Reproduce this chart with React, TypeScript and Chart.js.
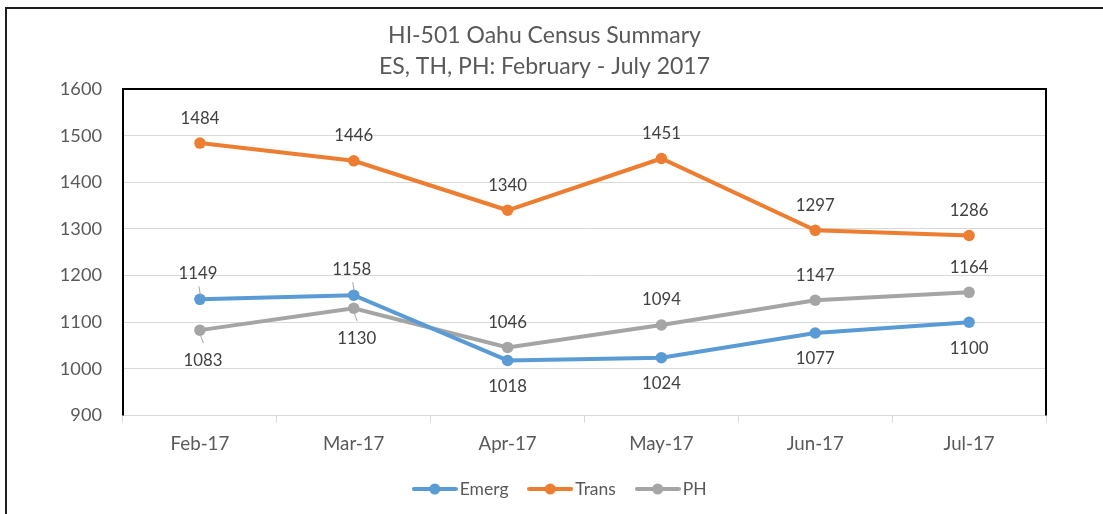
import { useEffect, useRef } from "react";
import { Chart, registerables } from "chart.js";

Chart.register(...registerables);

const categories = ["Feb-17", "Mar-17", "Apr-17", "May-17", "Jun-17", "Jul-17"];
const seriesNames = ["Emerg", "Trans", "PH"];
const emergValues = [1149, 1158, 1018, 1024, 1077, 1100];
const transValues = [1484, 1446, 1340, 1451, 1297, 1286];
const phValues = [1083, 1130, 1046, 1094, 1147, 1164];
const yMin = 900;
const yMax = 1600;
const yStep = 100;
const titleLines = ["HI-501 Oahu Census Summary", "ES, TH, PH: February - July 2017"];

const seriesColors = ["#5B9BD5", "#ED7D31", "#A5A5A5"];

// label placement per series: 1 = above, -1 = below
const emergLabelSide = [1, 1, -1, -1, -1, -1];
const transLabelSide = [1, 1, 1, 1, 1, 1];
const phLabelSide = [-1, -1, 1, 1, 1, 1];
// leader lines (Excel moved labels)
const emergLeader = [true, true, false, false, false, false];
const transLeader = [false, false, false, false, false, false];
const phLeader = [true, true, false, false, false, false];

const FONT = "Lato, 'Open Sans', sans-serif";
const TEXT = "#595959";

function makeLegendImage(color: string) {
  const c = document.createElement("canvas");
  c.width = 46;
  c.height = 14;
  const g = c.getContext("2d")!;
  g.strokeStyle = color;
  g.lineWidth = 4;
  g.lineCap = "round";
  g.beginPath();
  g.moveTo(2, 7);
  g.lineTo(44, 7);
  g.stroke();
  g.fillStyle = color;
  g.beginPath();
  g.arc(23, 7, 5.5, 0, Math.PI * 2);
  g.fill();
  return c;
}

const framePlugin = {
  id: "frame",
  beforeDraw(chart: any) {
    const { ctx, width, height } = chart;
    ctx.save();
    ctx.fillStyle = "#ffffff";
    ctx.fillRect(0, 0, width, height);
    ctx.strokeStyle = "#1f1f1f";
    ctx.lineWidth = 2;
    ctx.strokeRect(6, 8, width + 50, height + 50);
    ctx.restore();
  },
  afterLayout(chart: any) {
    const lg = chart.legend;
    if (lg) {
      lg.left += 18;
      lg.right += 18;
    }
  },
  beforeDatasetsDraw(chart: any) {
    const { ctx, chartArea } = chart;
    const { left, right, top, bottom } = chartArea;
    ctx.save();
    ctx.strokeStyle = "#000000";
    ctx.lineWidth = 2;
    ctx.beginPath();
    ctx.moveTo(left, bottom);
    ctx.lineTo(left, top);
    ctx.lineTo(right, top);
    ctx.lineTo(right, bottom);
    ctx.stroke();
    ctx.restore();
  },
};

const sides = [emergLabelSide, transLabelSide, phLabelSide];
const leaders = [emergLeader, transLeader, phLeader];

const labelPlugin = {
  id: "dataLabels",
  afterDatasetsDraw(chart: any) {
    const { ctx } = chart;
    ctx.save();
    ctx.font = `16.75px ${FONT}`;
    ctx.textAlign = "center";
    ctx.textBaseline = "middle";
    chart.data.datasets.forEach((ds: any, di: number) => {
      const meta = chart.getDatasetMeta(di);
      meta.data.forEach((pt: any, i: number) => {
        const side = sides[di][i];
        const lead = leaders[di][i];
        let dx = 0;
        let dy = side > 0 ? -25 : 26;
        if (lead) {
          dx = side > 0 ? -2 : 3;
          dy = side > 0 ? -26 : 30;
          ctx.strokeStyle = "#A6A6A6";
          ctx.lineWidth = 1;
          ctx.beginPath();
          if (side > 0) {
            ctx.moveTo(pt.x - 1, pt.y - 13);
            ctx.lineTo(pt.x + 0.5, pt.y - 4);
          } else {
            ctx.moveTo(pt.x + 0.5, pt.y + 5);
            ctx.lineTo(pt.x + 3.5, pt.y + 13);
          }
          ctx.stroke();
        }
        ctx.fillStyle = "#404040";
        ctx.fillText(String(ds.data[i]), pt.x + dx, pt.y + dy);
      });
    });
    ctx.restore();
  },
};

export default function App() {
  const ref = useRef<HTMLCanvasElement | null>(null);
  useEffect(() => {
    if (!ref.current) return;
    const values = [emergValues, transValues, phValues];
    const chart = new Chart(ref.current, {
      type: "line",
      data: {
        labels: categories,
        datasets: seriesNames.map((name, i) => ({
          label: name,
          data: values[i],
          borderColor: seriesColors[i],
          backgroundColor: seriesColors[i],
          borderWidth: 4,
          pointRadius: 5.75,
          pointBorderWidth: 0,
          pointBackgroundColor: seriesColors[i],
          tension: 0,
          fill: false,
        })),
      },
      options: {
        responsive: false,
        animation: false,
        layout: { padding: { left: 43, right: 57, top: 0, bottom: 6.25 } },
        scales: {
          x: {
            offset: true,
            grid: {
              offset: true,
              drawOnChartArea: false,
              drawTicks: true,
              tickLength: 7,
              color: "#D9D9D9",
            },
            border: { color: "#D9D9D9", width: 1 },
            ticks: { color: TEXT, font: { family: FONT, size: 18.7 }, padding: 10.3 },
            afterFit: (s: any) => {
              s.height = 39.25;
            },
          },
          y: {
            min: yMin,
            max: yMax,
            ticks: {
              stepSize: yStep,
              color: TEXT,
              font: { family: FONT, size: 18.2 },
              padding: 21,
              callback: (v: any) => String(v),
            },
            grid: { color: "#D9D9D9", lineWidth: 1, drawTicks: false },
            border: { display: false },
            afterFit: (s: any) => {
              s.width = 80;
            },
          },
        },
        plugins: {
          title: {
            display: true,
            text: titleLines,
            color: TEXT,
            font: { family: FONT, size: 23, weight: "normal", lineHeight: 31 / 23 },
            padding: { top: 20.5, bottom: 6.5 },
          },
          legend: {
            position: "bottom",
            labels: {
              usePointStyle: true,
              pointStyleWidth: 32.5,
              padding: 25.5,
              color: TEXT,
              font: { family: FONT, size: 17.5 },
              generateLabels: (c: any) => {
                const items = Chart.defaults.plugins.legend.labels.generateLabels(c);
                return items.map((it: any, i: number) => ({
                  ...it,
                  pointStyle: makeLegendImage(seriesColors[i]),
                }));
              },
            },
          },
          tooltip: { enabled: false },
        },
      },
      plugins: [framePlugin, labelPlugin],
    });
    return () => chart.destroy();
  }, []);
  return (
    <canvas
      ref={ref}
      width={1103}
      height={514}
      style={{ position: "fixed", left: 0, top: 0, display: "block" }}
    />
  );
}
